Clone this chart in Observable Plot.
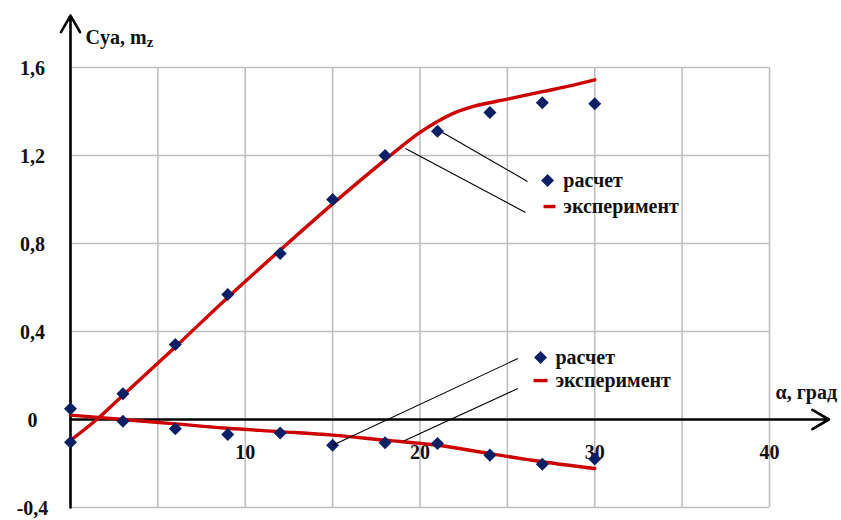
<!DOCTYPE html>
<html>
<head>
<meta charset="utf-8">
<script src="https://cdn.jsdelivr.net/npm/d3@7"></script>
<script src="https://cdn.jsdelivr.net/npm/@observablehq/plot@0.6"></script>
<style>
  html, body { margin: 0; padding: 0; background: #fff; }
  #chart svg { display: block; }
</style>
</head>
<body>
<div id="chart"></div>
<script>
// Angle of attack, degrees, at which the calculated values are given
const alphaCalc = [0, 3, 6, 9, 12, 15, 18, 21, 24, 27, 30];
// Lift coefficient Cya: calculation
const cyaCalc = [-0.103, 0.117, 0.341, 0.568, 0.755, 1.0, 1.2, 1.31, 1.395, 1.44, 1.435];
// Pitching moment mz: calculation
const mzCalc = [0.049, -0.008, -0.042, -0.068, -0.061, -0.117, -0.106, -0.109, -0.162, -0.203, -0.18];

// Experimental curves
const cyaExpAlpha = [0, 1.5, 3, 6, 9, 12, 15, 18, 19, 20, 21, 22, 23, 25, 27, 28.5, 30];
const cyaExp = [-0.095, 0.0, 0.11, 0.33, 0.555, 0.77, 0.98, 1.18, 1.245, 1.305, 1.355, 1.395, 1.422, 1.456, 1.49, 1.515, 1.544];
const mzExpAlpha = [0, 3, 6, 9, 12, 15, 18, 21, 24, 27, 30];
const mzExp = [0.02, 0.0, -0.02, -0.04, -0.055, -0.071, -0.094, -0.117, -0.155, -0.192, -0.223];

// Axes, ticks and grid
const xTicks = [10, 20, 30, 40];
const yTicks = [-0.4, 0, 0.4, 0.8, 1.2, 1.6];
const gridX = [5, 10, 15, 20, 25, 30, 35, 40];
const gridY = [-0.4, 0.4, 0.8, 1.2, 1.6];
const axisArrows = [
  {x1: 0, y1: -0.4, x2: 0, y2: 1.836},
  {x1: 0, y1: 0, x2: 43.4, y2: 0}
];

// Callout legends with leader lines
const legendNames = ["расчет", "эксперимент"];
const legendMarker = [{x: 27.3, y: 1.086}, {x: 26.9, y: 0.282}];
const legendDash = [{x1: 27.07, x2: 27.75, y: 0.968}, {x1: 26.5, x2: 27.3, y: 0.177}];
const legendText = [
  {x: 28.2, y: 1.086, label: legendNames[0]},
  {x: 28.2, y: 0.968, label: legendNames[1]},
  {x: 27.75, y: 0.282, label: legendNames[0]},
  {x: 27.75, y: 0.177, label: legendNames[1]}
];
const leaders = [
  {x1: 21.29, y1: 1.305, x2: 26.15, y2: 1.082},
  {x1: 19.17, y1: 1.232, x2: 26.04, y2: 0.941},
  {x1: 15.0, y1: -0.117, x2: 25.6, y2: 0.277},
  {x1: 19.1, y1: -0.097, x2: 25.6, y2: 0.141}
];

const navy = "#0b1f65";
const red = "#cc0000";
const gridColor = "#bfbfbf";
const ink = "#111";
const serif = "'Liberation Serif', 'Times New Roman', Tinos, 'DejaVu Serif', serif";
const fmt = d => d === 0 ? "0" : d.toFixed(1).replace(".", ",");

const calc = alphaCalc.flatMap((a, i) => [
  {a, v: cyaCalc[i]},
  {a, v: mzCalc[i]}
]);
const expCya = cyaExpAlpha.map((a, i) => ({a, v: cyaExp[i]}));
const expMz = mzExpAlpha.map((a, i) => ({a, v: mzExp[i]}));

const textStyle = {fill: ink, fontWeight: "bold", fontSize: 20};

const chart = Plot.plot({
  width: 841,
  height: 520,
  marginLeft: 70,
  marginRight: 72,
  marginTop: 67,
  marginBottom: 13,
  x: {domain: [0, 40], axis: null},
  y: {domain: [-0.4, 1.6], axis: null},
  style: {fontSize: "20px"},
  marks: [
    Plot.ruleX(gridX, {x: d => d, y1: -0.4, y2: 1.6, stroke: gridColor, strokeWidth: 1.6}),
    Plot.ruleY(gridY, {y: d => d, x1: 0, x2: 40, stroke: gridColor, strokeWidth: 1.6}),
    Plot.arrow(axisArrows, {x1: "x1", y1: "y1", x2: "x2", y2: "y2", stroke: "#000", strokeWidth: 2.6, headLength: 11, headAngle: 60}),
    Plot.text(yTicks, {y: d => d, text: fmt, frameAnchor: "left", dx: -38, dy: 1, textAnchor: "middle", ...textStyle}),
    Plot.text(xTicks, {x: d => d, text: d => String(d), frameAnchor: "bottom", dy: -49, ...textStyle}),
    Plot.text(["Cya, m"], {x: 0.86, y: 1.736, text: d => d, textAnchor: "start", ...textStyle}),
    Plot.text(["α, град"], {x: 40.35, y: 0.123, text: d => d, textAnchor: "start", ...textStyle}),
    Plot.line(expCya, {x: "a", y: "v", stroke: red, strokeWidth: 3.4, curve: "monotone-x"}),
    Plot.line(expMz, {x: "a", y: "v", stroke: red, strokeWidth: 3.4, curve: "monotone-x"}),
    Plot.dot(calc, {x: "a", y: "v", symbol: "square", rotate: 45, r: 5.2, fill: navy}),
    Plot.link(leaders, {x1: "x1", y1: "y1", x2: "x2", y2: "y2", stroke: "#000", strokeWidth: 1.1}),
    Plot.dot(legendMarker, {x: "x", y: "y", symbol: "square", rotate: 45, r: 5.2, fill: navy}),
    Plot.link(legendDash, {x1: "x1", x2: "x2", y1: "y", y2: "y", stroke: red, strokeWidth: 3.4}),
    Plot.text(legendText, {x: "x", y: "y", text: "label", textAnchor: "start", ...textStyle})
  ]
});

// serif face for every label
chart.style.fontFamily = serif;
chart.querySelectorAll("text").forEach(t => { t.style.fontFamily = serif; });

// subscript z in the vertical axis title
const title = [...chart.querySelectorAll("text")].find(t => t.textContent === "Cya, m");
if (title) {
  const sub = document.createElementNS("http://www.w3.org/2000/svg", "tspan");
  sub.setAttribute("font-size", "15");
  sub.setAttribute("dy", "3");
  sub.textContent = "z";
  title.appendChild(sub);
}
document.getElementById("chart").append(chart);
</script>
</body>
</html>
